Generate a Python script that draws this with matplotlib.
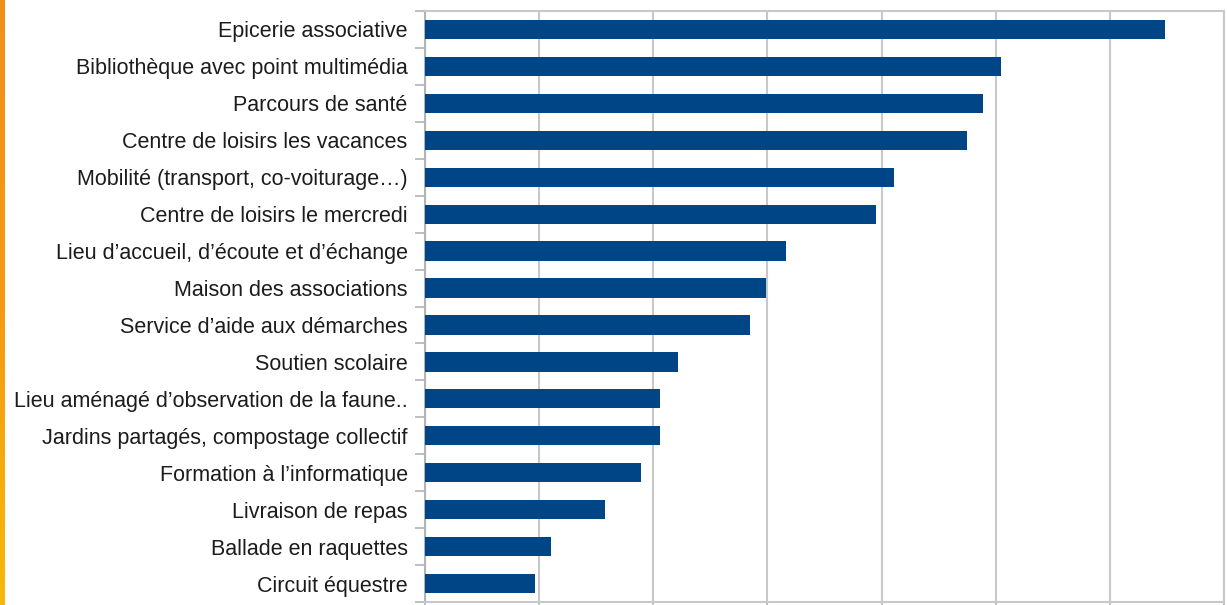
import matplotlib.pyplot as plt
import numpy as np

categories = [
    "Epicerie associative",
    "Bibliothèque avec point multimédia",
    "Parcours de santé",
    "Centre de loisirs les vacances",
    "Mobilité (transport, co-voiturage…)",
    "Centre de loisirs le mercredi",
    "Lieu d’accueil, d’écoute et d’échange",
    "Maison des associations",
    "Service d’aide aux démarches",
    "Soutien scolaire",
    "Lieu aménagé d’observation de la faune..",
    "Jardins partagés, compostage collectif",
    "Formation à l’informatique",
    "Livraison de repas",
    "Ballade en raquettes",
    "Circuit équestre",
]
values = [64.8, 50.5, 48.9, 47.5, 41.1, 39.5, 31.6, 29.9, 28.5,
          22.2, 20.6, 20.6, 18.9, 15.8, 11.0, 9.6]

plt.rcParams['font.family'] = ['Liberation Sans', 'DejaVu Sans']

fig = plt.figure(figsize=(12.27, 6.05), dpi=100)
ax = fig.add_axes([425 / 1227, 3 / 605, 799 / 1227, 591 / 605])

y = np.arange(len(categories))
ax.barh(y, values, height=0.52, color='#004586', zorder=3)
ax.set_ylim(len(categories) - 0.5, -0.5)
ax.set_xlim(0, 70)

ax.set_xticks(np.arange(0, 71, 10))
ax.set_xticklabels([])
ax.xaxis.grid(True, color='#c8c8c8', linewidth=1.5, zorder=0)
ax.tick_params(axis='x', length=6, color='#b3b3b3', width=1.2)

ax.set_yticks(y)
ax.set_yticklabels(categories, fontsize=15.5, color='#1c1c1c')
ax.tick_params(axis='y', length=0, pad=12.5)
ax.set_yticks(np.arange(len(categories) + 1) - 0.5, minor=True)
ax.tick_params(axis='y', which='minor', length=7, color='#b3b3b3', width=1.2)

for side in ['left', 'bottom', 'top', 'right']:
    ax.spines[side].set_color('#c8c8c8')
    ax.spines[side].set_linewidth(1.5)
ax.spines['left'].set_color('#b3b3b3')

# orange strip on the left edge
grad = np.linspace(0, 1, 100).reshape(-1, 1)
strip = fig.add_axes([0, 0, 5 / 1227, 1])
strip.imshow(grad, aspect='auto', cmap=plt.matplotlib.colors.LinearSegmentedColormap.from_list(
    'o', ['#f0901c', '#f39a12', '#f8b80a']), extent=[0, 1, 0, 1], origin='upper')
strip.axis('off')

fig.savefig('out.png', dpi=100)
